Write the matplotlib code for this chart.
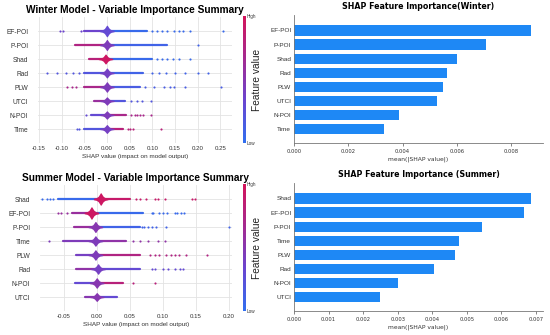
import numpy as np
import matplotlib
matplotlib.use("Agg")
import matplotlib.pyplot as plt
from matplotlib.colors import LinearSegmentedColormap
from matplotlib.cm import ScalarMappable

# ---- data ----
W_FEATURES = ["EF-POI", "P-POI", "Shad", "Rad", "PLW", "UTCI", "N-POI", "Time"]
W_IMPORTANCE = [0.00873, 0.00707, 0.00600, 0.00564, 0.00547, 0.00528, 0.00387, 0.00331]
W_STRIP_LO = [-0.050, -0.070, -0.040, -0.050, -0.050, -0.029, -0.035, -0.050]
W_STRIP_HI = [0.088, 0.133, 0.100, 0.080, 0.073, 0.040, 0.043, 0.036]
W_LEFT_C = [0.35, 0.75, 0.80, 0.20, 0.70, 0.60, 0.30, 0.20]
W_RIGHT_C = [0.05, 0.10, 0.05, 0.10, 0.15, 0.20, 0.70, 0.80]
W_CORE_X = [0.000, 0.000, -0.003, 0.000, 0.000, 0.000, 0.000, 0.000]
W_CORE_H = [0.42, 0.40, 0.36, 0.36, 0.38, 0.30, 0.30, 0.32]
W_CORE_C = [0.30, 0.45, 0.95, 0.40, 0.45, 0.45, 0.45, 0.40]
W_DOTS_L = [[-0.104, -0.096, -0.057], [], [], [-0.132, -0.110, -0.091, -0.075, -0.061],
            [-0.087, -0.076, -0.069], [], [-0.046], [-0.065, -0.061]]
W_DOTS_R = [[0.099, 0.110, 0.122, 0.133, 0.148, 0.159, 0.169, 0.184, 0.256],
            [0.200],
            [0.110, 0.122, 0.133, 0.145, 0.160, 0.184],
            [0.100, 0.115, 0.130, 0.150, 0.172, 0.200, 0.222],
            [0.084, 0.103, 0.125, 0.140, 0.148, 0.172, 0.252],
            [0.054, 0.066, 0.077, 0.097],
            [0.054, 0.062, 0.067, 0.073, 0.079, 0.097],
            [0.047, 0.052, 0.058, 0.120]]

S_FEATURES = ["Shad", "EF-POI", "P-POI", "Time", "PLW", "Rad", "N-POI", "UTCI"]
S_IMPORTANCE = [0.00686, 0.00664, 0.00543, 0.00476, 0.00466, 0.00405, 0.00300, 0.00248]
S_STRIP_LO = [-0.058, -0.038, -0.034, -0.051, -0.031, -0.031, -0.033, -0.018]
S_STRIP_HI = [0.050, 0.070, 0.065, 0.045, 0.065, 0.065, 0.040, 0.030]
S_LEFT_C = [0.05, 0.60, 0.60, 0.45, 0.40, 0.55, 0.30, 0.50]
S_RIGHT_C = [0.90, 0.05, 0.10, 0.55, 0.75, 0.30, 0.80, 0.30]
S_CORE_X = [0.006, -0.008, -0.002, -0.002, -0.002, 0.002, 0.000, 0.000]
S_CORE_H = [0.45, 0.45, 0.40, 0.38, 0.38, 0.38, 0.38, 0.32]
S_CORE_C = [0.95, 0.95, 0.50, 0.45, 0.45, 0.40, 0.50, 0.50]
S_DOTS_L = [[-0.083, -0.075, -0.071, -0.066], [-0.058, -0.054, -0.045], [], [-0.072],
            [], [], [], []]
S_DOTS_R = [[0.060, 0.065, 0.075, 0.088, 0.093, 0.103, 0.144, 0.149],
            [0.083, 0.086, 0.095, 0.100, 0.106, 0.118, 0.122, 0.128, 0.133],
            [0.068, 0.072, 0.078, 0.084, 0.090, 0.105, 0.200],
            [0.055, 0.065, 0.078, 0.093, 0.104],
            [0.080, 0.088, 0.095, 0.105, 0.112, 0.118, 0.124, 0.136, 0.167],
            [0.083, 0.088, 0.100, 0.108, 0.118, 0.126, 0.131],
            [0.055, 0.089],
            []]

# core outline (relative x offset, relative half-height)
CORE_DX = [-1.0, -0.6, -0.35, -0.18, -0.07, 0.0, 0.07, 0.18, 0.35, 0.6, 1.0]
CORE_DY = [0.12, 0.22, 0.42, 0.72, 0.94, 1.0, 0.94, 0.72, 0.42, 0.22, 0.12]

cmap = LinearSegmentedColormap.from_list(
    "shap_like", ["#3070f0", "#6a45d0", "#a42a90", "#d4145a"])
BAR_COLOR = "#1e88f5"
ARIAL = "Liberation Sans"
DEJAVU = "DejaVu Sans"

fig = plt.figure(figsize=(5.5, 3.35), dpi=100)


def beeswarm(rect, title, features, lo, hi, lc, rc, core_x, core_h, core_c,
             core_len, dots_l, dots_r, xlim, xticks, cbar_rect):
    ax = fig.add_axes(rect)
    n = len(features)
    for i in range(n):
        y = n - 1 - i
        ax.axhline(y, color="#e3e3e3", lw=0.6, zorder=0)
        ax.plot([lo[i], core_x[i]], [y, y], color=cmap(lc[i]), lw=1.6,
                solid_capstyle="round", zorder=2)
        ax.plot([core_x[i], hi[i]], [y, y], color=cmap(rc[i]), lw=1.6,
                solid_capstyle="round", zorder=2)
        ax.scatter(dots_l[i], [y] * len(dots_l[i]), s=2.4, color=cmap(lc[i]),
                   linewidths=0, zorder=3)
        ax.scatter(dots_r[i], [y] * len(dots_r[i]), s=2.4, color=cmap(rc[i]),
                   linewidths=0, zorder=3)
        px = [core_x[i] + d * core_len for d in CORE_DX]
        top = [y + d * core_h[i] for d in CORE_DY]
        bot = [y - d * core_h[i] for d in CORE_DY]
        ax.fill_between(px, bot, top, color=cmap(core_c[i]), lw=0, zorder=4)
    ax.set_xlim(*xlim)
    ax.set_ylim(-1, n)
    ax.set_yticks(range(n))
    ax.set_yticklabels(features[::-1], fontsize=4.8, family=ARIAL, color="#333333")
    ax.set_xticks(xticks)
    ax.set_xticklabels([f"{t:.2f}" for t in xticks], fontsize=4.4,
                       family=ARIAL, color="#333333")
    ax.tick_params(length=0, pad=2.5)
    ax.tick_params(axis="y", pad=7)
    ax.grid(axis="x", color="#e3e3e3", lw=0.6)
    ax.set_axisbelow(True)
    for s in ax.spines.values():
        s.set_visible(False)
    ax.set_xlabel("SHAP value (impact on model output)", fontsize=4.6,
                  family=ARIAL, color="#333333", labelpad=1.5)
    ax.set_title(title, fontsize=7.3, family=ARIAL, fontweight="bold", pad=3)

    cax = fig.add_axes(cbar_rect)
    sm = ScalarMappable(cmap=cmap)
    cb = fig.colorbar(sm, cax=cax, ticks=[0, 1])
    cb.outline.set_visible(False)
    cb.set_ticklabels(["Low", "High"], fontsize=3.3, family=ARIAL, color="#333333")
    cax.tick_params(length=0, pad=1)
    cb.set_label("Feature value", fontsize=7.3, family=ARIAL, labelpad=-3,
                 color="#222222")
    return ax


def bars(rect, title, features, values, xticks, fmt):
    ax = fig.add_axes(rect)
    n = len(features)
    ypos = np.arange(n)[::-1]
    ax.barh(ypos, values, height=0.72, color=BAR_COLOR)
    ax.set_ylim(-1, n + 0.1)
    ax.set_xlim(0, max(values) * 1.05)
    ax.set_yticks(ypos)
    ax.set_yticklabels(features, fontsize=4.6, family=ARIAL, color="#333333")
    ax.set_xticks(xticks)
    ax.set_xticklabels([fmt.format(t) for t in xticks], fontsize=3.8,
                       family=DEJAVU, color="#333333")
    ax.tick_params(axis="y", length=0, pad=2)
    ax.tick_params(axis="x", length=2, width=0.5, pad=2, color="#555555")
    for s in ["top", "right"]:
        ax.spines[s].set_visible(False)
    for s in ["left", "bottom"]:
        ax.spines[s].set_linewidth(0.6)
        ax.spines[s].set_color("#777777")
    ax.set_xlabel("mean(|SHAP value|)", fontsize=4.3, family=DEJAVU,
                  color="#333333", labelpad=2)
    ax.set_title(title, fontsize=5.7, family=DEJAVU, fontweight="bold", pad=4)
    return ax


beeswarm([38 / 550, 1 - 143 / 335, 194 / 550, 126 / 335],
         "Winter Model - Variable Importance Summary",
         W_FEATURES, W_STRIP_LO, W_STRIP_HI, W_LEFT_C, W_RIGHT_C,
         W_CORE_X, W_CORE_H, W_CORE_C, 0.016, W_DOTS_L, W_DOTS_R,
         (-0.152, 0.276), [-0.15, -0.10, -0.05, 0.00, 0.05, 0.10, 0.15, 0.20, 0.25],
         [243 / 550, 1 - 143 / 335, 2.5 / 550, 127 / 335])

beeswarm([40 / 550, 1 - 311 / 335, 192 / 550, 126 / 335],
         "Summer Model - Variable Importance Summary",
         S_FEATURES, S_STRIP_LO, S_STRIP_HI, S_LEFT_C, S_RIGHT_C,
         S_CORE_X, S_CORE_H, S_CORE_C, 0.011, S_DOTS_L, S_DOTS_R,
         (-0.086, 0.205), [-0.05, 0.00, 0.05, 0.10, 0.15, 0.20],
         [243 / 550, 1 - 311 / 335, 2.5 / 550, 127 / 335])

bars([294 / 550, 1 - 143 / 335, 249 / 550, 128 / 335],
     "SHAP Feature Importance(Winter)", W_FEATURES, W_IMPORTANCE,
     [0.000, 0.002, 0.004, 0.006, 0.008], "{:.3f}")

bars([294 / 550, 1 - 311 / 335, 249 / 550, 128 / 335],
     "SHAP Feature Importance (Summer)", S_FEATURES, S_IMPORTANCE,
     [0.000, 0.001, 0.002, 0.003, 0.004, 0.005, 0.006, 0.007], "{:.3f}")

fig.savefig("out.png", dpi=100, facecolor="white")
